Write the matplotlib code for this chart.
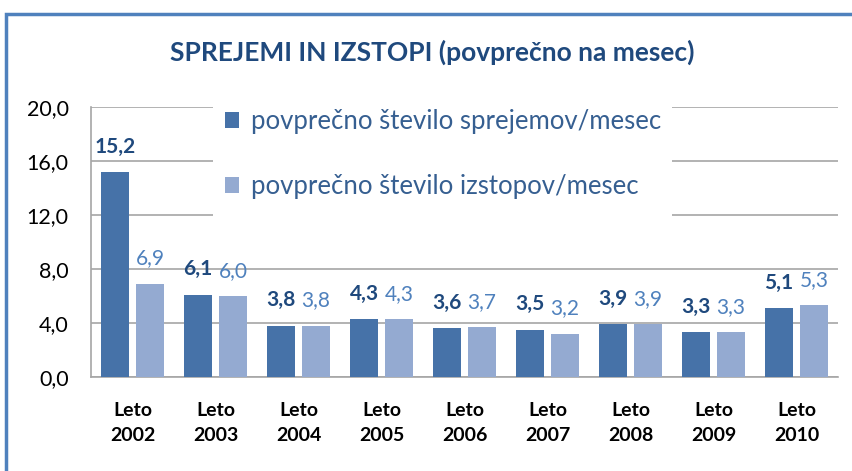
import matplotlib.pyplot as plt
import numpy as np
from matplotlib.patches import Rectangle

plt.rcParams['font.family'] = ['Lato', 'DejaVu Sans']

# data
years = ["2002", "2003", "2004", "2005", "2006", "2007", "2008", "2009", "2010"]
sprejemi = [15.2, 6.1, 3.8, 4.3, 3.6, 3.5, 3.9, 3.3, 5.1]
izstopi = [6.9, 6.0, 3.8, 4.3, 3.7, 3.2, 3.9, 3.3, 5.3]
labels = ["povprečno število sprejemov/mesec", "povprečno število izstopov/mesec"]
yticks = [0, 4, 8, 12, 16, 20]

dark = "#4672A8"
light = "#94AAD1"
dark_txt = "#1F497D"
light_txt = "#4F81BD"

fig = plt.figure(figsize=(8.52, 4.71), dpi=100)
ax = fig.add_axes([0.1068, 0.1996, 0.8768, 0.5732])

x = np.arange(len(years))
w = 0.33
off = 0.21
b1 = ax.bar(x - off, sprejemi, w, color=dark, label=labels[0], zorder=3)
b2 = ax.bar(x + off, izstopi, w, color=light, label=labels[1], zorder=3)

fmt = lambda v: f"{v:.1f}".replace(".", ",")
for rect, v in zip(b1, sprejemi):
    ax.annotate(fmt(v), (rect.get_x() + rect.get_width() / 2, v), xytext=(0, 11),
                textcoords="offset points", ha="center", va="bottom",
                fontsize=15, color=dark_txt, fontweight="bold")
for rect, v in zip(b2, izstopi):
    ax.annotate(fmt(v), (rect.get_x() + rect.get_width() / 2, v), xytext=(0, 11),
                textcoords="offset points", ha="center", va="bottom",
                fontsize=15, color=light_txt)

ax.set_xlim(-0.5, len(years) - 0.5)
ax.set_ylim(0, 20)
ax.set_yticks(yticks)
ax.set_yticklabels([fmt(t) for t in yticks], fontsize=15.5)
ax.set_xticks(x)
ax.set_xticklabels([f"Leto\n{y}" for y in years], fontsize=14, fontweight="bold",
                   linespacing=1.6)
ax.tick_params(axis="x", length=0, pad=18)
ax.tick_params(axis="y", length=0, pad=16)

ax.set_axisbelow(True)
ax.grid(axis="y", color="#A6A6A6", linewidth=1.2)
for s in ["top", "right"]:
    ax.spines[s].set_visible(False)
ax.spines["left"].set_color("#A6A6A6")
ax.spines["bottom"].set_color("#A6A6A6")
ax.spines["left"].set_linewidth(1.2)
ax.spines["bottom"].set_linewidth(1.2)

# white legend area hiding the gridlines behind it
ax.add_patch(Rectangle((0.163, 0.574), 0.615, 0.452, transform=ax.transAxes,
                       facecolor="white", edgecolor="none", zorder=1, clip_on=False))

leg = ax.legend(loc="upper left", bbox_to_anchor=(0.166, 1.03), fontsize=18.5,
                frameon=False, handlelength=0.55, handleheight=0.55,
                handletextpad=0.45, labelspacing=1.55, borderpad=0.4,
                borderaxespad=0)
for t in leg.get_texts():
    t.set_color("#365F91")
leg.set_zorder(5)

fig.text(0.507, 0.889, "SPREJEMI IN IZSTOPI (povprečno na mesec)", ha="center",
         va="center", fontsize=19, fontweight="bold", color=dark_txt)

fig.patches.append(Rectangle((0.0075, -0.05), 1.1, 1.0205, transform=fig.transFigure,
                             fill=False, edgecolor="#4F81BD", linewidth=2.5))

fig.savefig("out.png", dpi=100)
